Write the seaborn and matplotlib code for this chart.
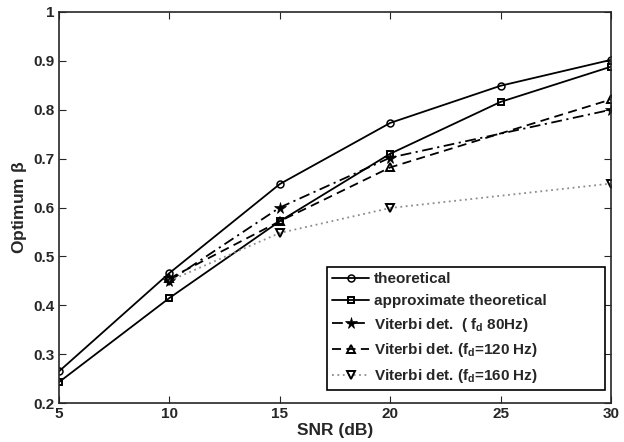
import numpy as np
import seaborn as sns
import matplotlib
matplotlib.use('Agg')
import matplotlib.pyplot as plt

snr = [5, 10, 15, 20, 25, 30]
theoretical = [0.265, 0.466, 0.648, 0.773, 0.849, 0.902]
approx_theoretical = [0.243, 0.415, 0.572, 0.710, 0.816, 0.888]

snr_vit = [10, 15, 20, 30]
vit_80 = [0.450, 0.600, 0.702, 0.800]
vit_120 = [0.455, 0.572, 0.682, 0.821]
vit_160 = [0.450, 0.548, 0.599, 0.649]

labels = ['theoretical', 'approximate theoretical',
          'Viterbi det.  ( f$_\\mathbf{d}$ 80Hz)',
          'Viterbi det. (f$_\\mathbf{d}$=120 Hz)',
          'Viterbi det. (f$_\\mathbf{d}$=160 Hz)']

sns.set_style('ticks')
plt.rcParams['font.family'] = ['Liberation Sans', 'DejaVu Sans']
plt.rcParams['font.weight'] = 'bold'
plt.rcParams['mathtext.fontset'] = 'custom'
plt.rcParams['mathtext.rm'] = 'Liberation Sans:bold'
plt.rcParams['mathtext.bf'] = 'Liberation Sans:bold'
plt.rcParams['mathtext.it'] = 'Liberation Sans:bold'

fig = plt.figure(figsize=(6.24, 4.42), dpi=100)
ax = fig.add_axes([0.0946, 0.088, 0.8845, 0.885])

styles = [
    dict(color='black', marker='o', linestyle='-', markersize=5, markerfacecolor='none', markeredgecolor='black', markeredgewidth=1.1),
    dict(color='black', marker='s', linestyle='-', markersize=4.5, markerfacecolor='none', markeredgecolor='black', markeredgewidth=1.4),
    dict(color='black', marker='*', linestyle=(0, (6, 2.5, 1.2, 2.5)), markersize=8.5, markerfacecolor='black', markeredgecolor='black', markeredgewidth=0.5),
    dict(color='black', marker='^', linestyle=(0, (5, 3)), markersize=5.5, markerfacecolor='none', markeredgecolor='black', markeredgewidth=1.4),
    dict(color='#8c8c8c', marker='v', linestyle=(0, (1, 2)), markersize=5.5, markerfacecolor='none', markeredgecolor='black', markeredgewidth=1.4),
]
data = [(snr, theoretical), (snr, approx_theoretical), (snr_vit, vit_80),
        (snr_vit, vit_120), (snr_vit, vit_160)]

handles = []
for (x, y), kw in zip(data, styles):
    sns.lineplot(x=x, y=y, ax=ax, linewidth=1.3)
    line = ax.lines[-1]
    line.set(**kw)
    handles.append(line)

ax.set_xlim(5, 30)
ax.set_ylim(0.2, 1.0)
ax.set_xticks([5, 10, 15, 20, 25, 30])
ax.set_yticks(np.round(np.arange(0.2, 1.01, 0.1), 1))
ax.set_yticklabels(['0.2', '0.3', '0.4', '0.5', '0.6', '0.7', '0.8', '0.9', '1'])
ax.tick_params(direction='in', top=True, right=True, labelsize=11, length=5, width=0.8, pad=3)
for lab in ax.get_xticklabels() + ax.get_yticklabels():
    lab.set_fontweight('bold')
for s in ax.spines.values():
    s.set_linewidth(1.2)
    s.set_visible(True)
ax.set_xlabel('SNR (dB)', fontsize=12.5, fontweight='bold', labelpad=1)
ax.set_ylabel('Optimum $\\mathregular{\\beta}$', fontsize=12.5, fontweight='bold', labelpad=3)

leg = ax.legend(handles, labels, loc='lower left', bbox_to_anchor=(0.4855, 0.033, 0.5035, 0.322),
                mode='expand', fontsize=11,
                frameon=True, fancybox=False, edgecolor='black', framealpha=1,
                handlelength=2.4, handletextpad=0.3, borderpad=0.35, labelspacing=0.5,
                borderaxespad=0)
leg.get_frame().set_linewidth(1.2)

fig.savefig('out.png', dpi=100)
